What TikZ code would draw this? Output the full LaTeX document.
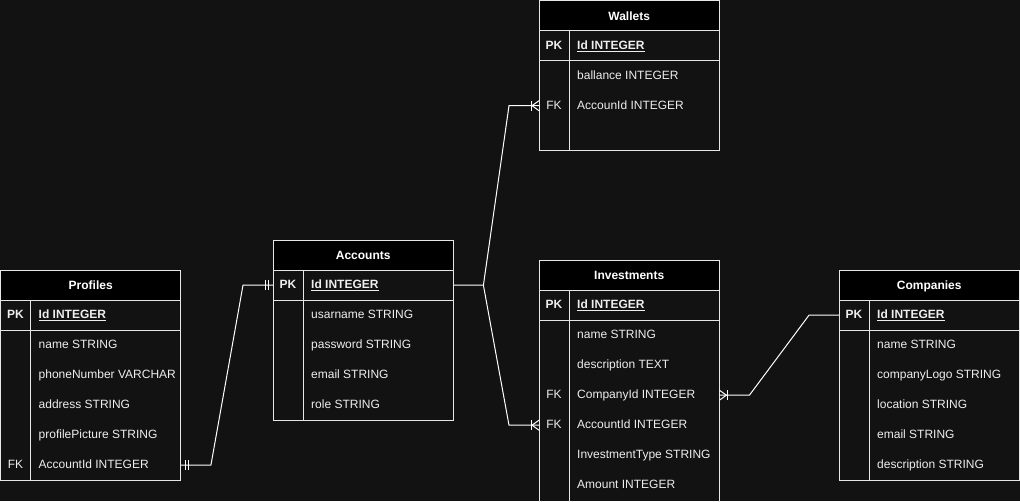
\documentclass[tikz,border=0pt]{standalone}
\usepackage{fontspec}
\setmainfont{Liberation Sans}
\usetikzlibrary{calc}
\definecolor{bg}{HTML}{121212}
\definecolor{txt}{HTML}{EEEEEE}
\definecolor{bord}{HTML}{E6E6E6}
\tikzset{
  hdr/.style={fill=black, minimum width=180pt, minimum height=30pt, inner sep=0pt,
    text=white, text height=8.6pt, text depth=0pt, font=\fontsize{12}{14}\selectfont\bfseries},
  rowbox/.style={minimum width=180pt, minimum height=30pt, inner sep=0pt},
  keytxt/.style={text=txt, font=\fontsize{12}{14}\selectfont, inner sep=0pt, anchor=base},
  fldtxt/.style={text=txt, font=\fontsize{12}{14}\selectfont, inner sep=0pt, anchor=base west},
  pkbold/.style={font=\fontsize{12}{14}\selectfont\bfseries},
  tline/.style={draw=bord, line width=1pt},
  conn/.style={draw=white, line width=1pt},
}
% #1 name, #2 x, #3 y, #4 title, #5 pk field, #6 rows key/field, #7 number of rows drawn
\newcommand\ertbl[7]{%
  \node[hdr, anchor=north west] (#1-h) at (#2,#3) {#4};
  \node[rowbox, anchor=north west] (#1-pk) at (#2,#3+30) {};
  \node[keytxt, pkbold] (#1-pkk) at ($(#1-pk.west)+(15,3.6)$) {PK};
  \node[fldtxt, pkbold] (#1-pkf) at ($(#1-pk.west)+(38,3.6)$) {\underline{#5}};
  \foreach \k/\f [count=\i] in {#6} {
    \node[rowbox, anchor=north west] (#1-\i) at (#2,#3+30+30*\i) {};
    \node[keytxt] (#1-\i k) at ($(#1-\i.west)+(15,3.6)$) {\k};
    \node[fldtxt] (#1-\i f) at ($(#1-\i.west)+(38,3.6)$) {\f};
  }
  \draw[tline] (#2,#3) rectangle (#2+180,#3+60+30*#7);
  \draw[tline] (#2,#3+30) -- ++(180,0);
  \draw[tline] (#2,#3+60) -- ++(180,0);
  \draw[tline] (#2+30,#3+30) -- (#2+30,#3+60+30*#7);
}
\newcommand\crowfoot[2]{%
  \draw[conn] ($(#1)+(#2*8,-5)$) -- ++(0,10);
  \draw[conn] ($(#1)+(0,-5)$) -- ($(#1)+(#2*7,0)$) -- ($(#1)+(0,5)$);
}
\newcommand\onemark[2]{%
  \draw[conn] ($(#1)+(#2*4.5,-5)$) -- ++(0,10);
  \draw[conn] ($(#1)+(#2*7.5,-5)$) -- ++(0,10);
}
\begin{document}
\begin{tikzpicture}[x=1pt,y=-1pt]
\useasboundingbox (0,0) rectangle (1020,501);
\fill[bg] (0,0) rectangle (1020,501);
\clip (0,0) rectangle (1020,501);

\ertbl{prof}{0.5}{270}{Profiles}{Id INTEGER}{{}/name STRING, {}/phoneNumber VARCHAR, {}/address STRING, {}/profilePicture STRING, FK/AccountId INTEGER}{5}
\ertbl{acc}{273}{240}{Accounts}{Id INTEGER}{{}/usarname STRING, {}/password STRING, {}/email STRING, {}/role STRING}{4}
\ertbl{wal}{539}{0.5}{Wallets}{Id INTEGER}{{}/ballance INTEGER, FK/AccounId INTEGER, {}/{}}{3}
\ertbl{inv}{539}{260}{Investments}{Id INTEGER}{{}/name STRING, {}/description TEXT, FK/CompanyId INTEGER, FK/AccountId INTEGER, {}/InvestmentType STRING, {}/Amount INTEGER}{7}
\ertbl{com}{839}{270}{Companies}{Id INTEGER}{{}/name STRING, {}/companyLogo STRING, {}/location STRING, {}/email STRING, {}/description STRING}{5}

% Profiles -> Accounts
\draw[conn] (prof-5.east) -- ++(30,0) -- ($(acc-pk.west)+(-30,0)$) -- (acc-pk.west);
\onemark{prof-5.east}{1}
\onemark{acc-pk.west}{-1}
% Accounts -> Wallets
\draw[conn] (acc-pk.east) -- ++(30,0) coordinate (accj) -- ($(wal-2.west)+(-30,0)$) -- (wal-2.west);
\crowfoot{wal-2.west}{-1}
% Accounts -> Investments
\draw[conn] (accj) -- ($(inv-4.west)+(-30,0)$) -- (inv-4.west);
\crowfoot{inv-4.west}{-1}
% Investments -> Companies
\draw[conn] (inv-3.east) -- ++(30,0) -- ($(com-pk.west)+(-30,0)$) -- (com-pk.west);
\crowfoot{inv-3.east}{1}
\end{tikzpicture}
\end{document}
